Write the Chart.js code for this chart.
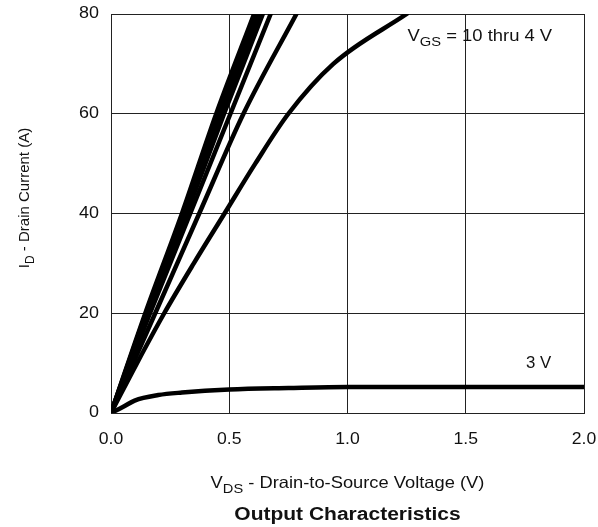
<!DOCTYPE html>
<html>
<head>
<meta charset="utf-8">
<script src="https://cdn.jsdelivr.net/npm/chart.js@4"></script>
<style>
  html, body { margin: 0; padding: 0; background: #fff; }
  #wrap { width: 598px; height: 527px; }
</style>
</head>
<body>
<div id="wrap"><canvas id="chart" width="598" height="527"></canvas></div>
<script>
// axis ticks
const xTicks = [0.0, 0.5, 1.0, 1.5, 2.0];
const yTicks = [0, 20, 40, 60, 80];

// curves: V_DS (V) vs I_D (A), one pair of arrays per gate voltage
const vgs10X = [0, 0.145, 0.30, 0.445, 0.605];
const vgs10Y = [0, 20, 40, 60, 80];
const vgs9X = [0, 0.148, 0.305, 0.455, 0.615];
const vgs9Y = [0, 20, 40, 60, 80];
const vgs8X = [0, 0.152, 0.312, 0.465, 0.628];
const vgs8Y = [0, 20, 40, 60, 80];
const vgs7X = [0, 0.156, 0.32, 0.478, 0.642];
const vgs7Y = [0, 20, 40, 60, 80];
const vgs6X = [0, 0.165, 0.335, 0.505, 0.675];
const vgs6Y = [0, 20, 40, 60, 80];
const vgs5X = [0, 0.187, 0.373, 0.56, 0.784];
const vgs5Y = [0, 20, 40, 60, 80];
const vgs4X = [0, 0.11, 0.225, 0.35, 0.48, 0.61, 0.75, 0.94, 1.25];
const vgs4Y = [0, 10, 20, 30, 40, 50, 60, 70, 80];
const vgs3X = [0, 0.05, 0.1, 0.2, 0.3, 0.5, 0.75, 1.0, 1.5, 2.0];
const vgs3Y = [0, 1.2, 2.5, 3.6, 4.1, 4.7, 5.0, 5.2, 5.2, 5.2];

const seriesList = [
  ['10 V', vgs10X, vgs10Y], ['9 V', vgs9X, vgs9Y], ['8 V', vgs8X, vgs8Y],
  ['7 V', vgs7X, vgs7Y], ['6 V', vgs6X, vgs6Y], ['5 V', vgs5X, vgs5Y],
  ['4 V', vgs4X, vgs4Y], ['3 V', vgs3X, vgs3Y]
];

const FONT = '"Liberation Sans", Arial, Helvetica, sans-serif';
const TEXT_COLOR = '#111';

// plain text, stretched sideways to get the wider letter look of the original
function drawText(ctx, text, x, y, font, stretch, align, baseline) {
  ctx.save();
  ctx.translate(x, y);
  ctx.scale(stretch, 1);
  ctx.font = font;
  ctx.textAlign = align;
  ctx.textBaseline = baseline || 'alphabetic';
  ctx.fillText(text, 0, 0);
  ctx.restore();
}

// text with one subscript part: [main, sub, rest]
function drawSubText(ctx, x, y, parts, size, align, stretch) {
  const [a, sub, b] = parts;
  const big = size + 'px ' + FONT, small = (size * 0.8) + 'px ' + FONT;
  ctx.save();
  ctx.font = big;
  const wa = ctx.measureText(a).width;
  const wb = ctx.measureText(b).width;
  ctx.font = small;
  const ws = ctx.measureText(sub).width;
  const total = wa + ws + wb;
  ctx.translate(x, y);
  ctx.scale(stretch, 1);
  const sx = align === 'center' ? -total / 2 : 0;
  ctx.textAlign = 'left';
  ctx.textBaseline = 'alphabetic';
  ctx.font = big;
  ctx.fillText(a, sx, 0);
  ctx.font = small;
  ctx.fillText(sub, sx + wa, size * 0.3);
  ctx.font = big;
  ctx.fillText(b, sx + wa + ws, 0);
  ctx.restore();
}

const labelsPlugin = {
  id: 'labels',
  afterDraw(chart) {
    const ctx = chart.ctx;
    const xs = chart.scales.x, ys = chart.scales.y;
    const area = chart.chartArea;
    ctx.save();
    ctx.fillStyle = TEXT_COLOR;
    const tickFont = '16px ' + FONT;
    // tick labels, placed through the scales
    xs.ticks.forEach(t => {
      drawText(ctx, t.value.toFixed(1), xs.getPixelForValue(t.value), area.bottom + 27, tickFont, 1.1, 'center', 'middle');
    });
    ys.ticks.forEach(t => {
      drawText(ctx, String(t.value), area.left - 12, ys.getPixelForValue(t.value), tickFont, 1.12, 'right', 'middle');
    });
    // annotations
    drawSubText(ctx, xs.getPixelForValue(1.254), ys.getPixelForValue(74.6), ['V', 'GS', ' = 10 thru 4 V'], 16, 'left', 1.15);
    drawText(ctx, '3 V', xs.getPixelForValue(1.755), ys.getPixelForValue(9.0), tickFont, 1.05, 'left');
    // x axis title
    drawSubText(ctx, (area.left + area.right) / 2, 488, ['V', 'DS', ' - Drain-to-Source Voltage (V)'], 16.5, 'center', 1.11);
    // bottom title
    drawText(ctx, 'Output Characteristics', (area.left + area.right) / 2, 520, 'bold 17.5px ' + FONT, 1.2, 'center');
    // y axis title
    ctx.translate(29, 198);
    ctx.rotate(-Math.PI / 2);
    drawSubText(ctx, 0, 0, ['I', 'D', ' - Drain Current (A)'], 15, 'center', 1);
    ctx.restore();
  }
};

const datasets = seriesList.map(([name, xv, yv]) => ({
  label: name,
  data: xv.map((v, i) => ({ x: v, y: yv[i] })),
  showLine: true,
  borderColor: '#000',
  borderWidth: 4.5,
  pointRadius: 0,
  cubicInterpolationMode: 'monotone',
  borderCapStyle: 'round',
  borderJoinStyle: 'round'
}));

new Chart(document.getElementById('chart'), {
  type: 'scatter',
  data: { datasets },
  options: {
    responsive: false,
    animation: false,
    layout: { autoPadding: false, padding: { left: 0, right: 14, top: 14, bottom: 0 } },
    plugins: { legend: { display: false }, tooltip: { enabled: false } },
    scales: {
      x: {
        type: 'linear', min: 0, max: 2,
        afterBuildTicks: s => { s.ticks = xTicks.map(v => ({ value: v })); },
        afterFit: s => { s.height = 114; s.paddingLeft = 0; s.paddingRight = 0; },
        grid: { color: '#222', lineWidth: 1, drawTicks: false },
        border: { color: '#222', width: 1 },
        ticks: { display: false }
      },
      y: {
        type: 'linear', min: 0, max: 80,
        afterBuildTicks: s => { s.ticks = yTicks.map(v => ({ value: v })); },
        afterFit: s => { s.width = 111; s.paddingTop = 0; s.paddingBottom = 0; },
        grid: { color: '#222', lineWidth: 1, drawTicks: false },
        border: { color: '#222', width: 1 },
        ticks: { display: false }
      }
    }
  },
  plugins: [labelsPlugin]
});
</script>
</body>
</html>
